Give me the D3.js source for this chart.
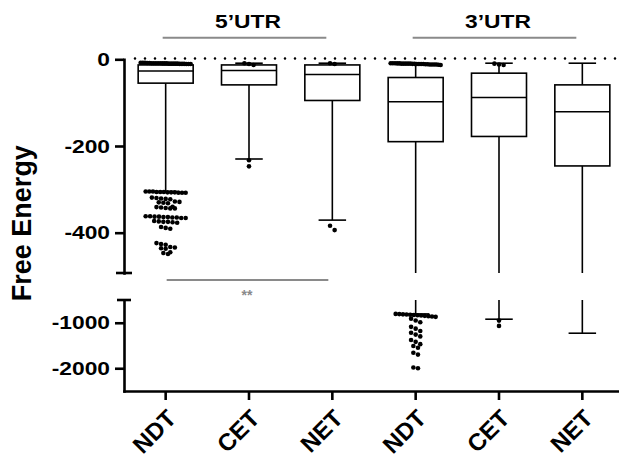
<!DOCTYPE html>
<html><head><meta charset="utf-8">
<script src="https://cdn.jsdelivr.net/npm/d3@7"></script>
<style>
body{margin:0;background:#fff}
svg{display:block}
text{font-family:"Liberation Sans",Arial,Helvetica,sans-serif}
</style>
</head><body>
<svg id="chart" width="619" height="457"></svg>
<script>
// ---------- data ----------
const groups = ["5’UTR", "3’UTR"];
const categories = ["NDT", "CET", "NET", "NDT", "CET", "NET"];
const groupOf = [0, 0, 0, 1, 1, 1];
const whiskerHigh = [-11, -9, -9, -11, -9, -9];
const q3 = [-13, -13, -13, -42, -32, -59];
const medians = [-27, -26, -35, -98, -88, -121];
const q1 = [-55, -59, -95, -190, -178, -246];
const whiskerLow = [-305, -230, -371, -806, -922, -1230];
const outliersNear0 = [
  [-8,-8,-8.5,-9,-9,-9,-9.5,-9.5,-10,-10,-10,-10.5,-10.5,-11,-11,-9,-8.5,-10,-9.5,-11,-10,-9,-8,-10.5],
  [-9,-11,-13],
  [-9,-11],
  [-9,-9,-9.5,-10,-10,-10.5,-11,-11,-11.5,-12,-12,-10,-9.5,-11,-12.5,-10,-11,-9,-12,-10.5,-11.5,-12,-13,-10],
  [-10,-12,-13],
  []
];
const outliersLow = [
  [-305,-305,-305,-306,-306,-306,-307,-307,-307,-308,-308,-308,
   -319,-320,-321,-322,-323,
   -328,-329,-330,-331,-332,
   -340,-341,-342,-343,-344,-344,
   -362,-362,-363,-363,-364,-364,-365,-365,-366,-366,
   -373,-374,-375,-375,-376,-377,
   -387,-389,-391,
   -424,-426,-428,
   -433,-434,-436,-437,
   -445,-447,-449],
  [-233,-247],
  [-384,-394],
  [-805,-810,-815,-820,-825,-830,-835,-840,-848,-855,-862,-870,
   -910,-950,-990,
   -1090,-1130,-1180,-1220,-1260,-1300,
   -1380,-1420,-1470,-1510,-1550,
   -1660,-1700,
   -1985,-2000],
  [-953,-1069],
  []
];
const topTicks = [0, -200, -400];
const bottomTicks = [-1000, -2000];
const topDomain = [0, -493];
const bottomDomain = [-500, -2500];
const yTitle = "Free Energy";
const significance = "**";

// ---------- scales ----------
const svg = d3.select("#chart");
const ids = categories.map((c, i) => groups[groupOf[i]] + " " + c);
const x = d3.scaleBand().domain(ids).range([124, 624]).paddingInner(0);
const yTop = d3.scaleLinear().domain(topDomain).range([59.3, 273]);
const yBot = d3.scaleLinear().domain(bottomDomain).range([300, 391]);
const y = v => (v >= topDomain[1] ? yTop(v) : yBot(v));
const bw = x.bandwidth() * 0.66;
const capW = x.bandwidth() * 0.33;
const SX = 1.2; // horizontal stretch of horizontal text

// ---------- reference dotted line at 0 ----------
svg.append("line")
  .attr("x1", 135).attr("x2", 619)
  .attr("y1", yTop(0) - 0.8).attr("y2", yTop(0) - 0.8)
  .attr("stroke", "#000").attr("stroke-width", 2.6)
  .attr("stroke-linecap", "round").attr("stroke-dasharray", "0 10");

// ---------- boxes ----------
const data = ids.map((id, i) => ({id, i}));
const gBox = svg.append("g").attr("stroke", "#000").attr("stroke-width", 1.6).attr("fill", "none");

data.forEach(d => {
  const cx = x(d.id) + x.bandwidth() / 2;
  const g = gBox.append("g");
  g.append("line").attr("x1", cx).attr("x2", cx).attr("y1", y(q3[d.i])).attr("y2", y(whiskerHigh[d.i]));
  g.append("line").attr("x1", cx - capW / 2).attr("x2", cx + capW / 2).attr("y1", y(whiskerHigh[d.i])).attr("y2", y(whiskerHigh[d.i]));
  const lo = whiskerLow[d.i];
  if (lo < topDomain[1]) {
    g.append("line").attr("x1", cx).attr("x2", cx).attr("y1", y(q1[d.i])).attr("y2", yTop(topDomain[1]));
    g.append("line").attr("x1", cx).attr("x2", cx).attr("y1", yBot(bottomDomain[0])).attr("y2", yBot(lo));
  } else {
    g.append("line").attr("x1", cx).attr("x2", cx).attr("y1", y(q1[d.i])).attr("y2", y(lo));
  }
  g.append("line").attr("x1", cx - capW / 2).attr("x2", cx + capW / 2).attr("y1", y(lo)).attr("y2", y(lo));
  g.append("rect").attr("x", cx - bw / 2).attr("width", bw)
    .attr("y", y(q3[d.i])).attr("height", y(q1[d.i]) - y(q3[d.i]))
    .attr("fill", "#fff");
  g.append("line").attr("x1", cx - bw / 2).attr("x2", cx + bw / 2).attr("y1", y(medians[d.i])).attr("y2", y(medians[d.i]));
});

// ---------- outlier dots (row-wise scatter layout) ----------
const R = 2.3, D = 2 * R;
function layout(vals, cx, maxW) {
  const pts = vals.map(v => ({v, py: y(v)})).sort((a, b) => a.py - b.py);
  const out = [];
  let row = [];
  const flush = () => {
    const n = row.length;
    const sp = n > 1 ? Math.min(D, maxW / (n - 1)) : 0;
    row.forEach((p, k) => out.push({px: cx + (k - (n - 1) / 2) * sp, py: p.py}));
    row = [];
  };
  pts.forEach(p => {
    if (row.length && p.py - row[0].py > D) flush();
    row.push(p);
  });
  if (row.length) flush();
  return out;
}
const gDots = svg.append("g").attr("fill", "#000");
data.forEach(d => {
  const cx = x(d.id) + x.bandwidth() / 2;
  const pts = layout(outliersNear0[d.i], cx, bw - 5).concat(layout(outliersLow[d.i], cx, 40));
  gDots.selectAll(null).data(pts).enter().append("circle")
    .attr("cx", p => p.px).attr("cy", p => p.py).attr("r", R);
});

// ---------- axes ----------
function styleAxis(g) {
  g.select(".domain").attr("stroke-width", 2.6).attr("stroke-linecap", "square");
  g.selectAll(".tick line").attr("stroke-width", 2.6);
  g.selectAll(".tick text")
    .attr("font-size", 19).attr("font-weight", "bold").attr("fill", "#000")
    .attr("x", -14 / SX).attr("transform", `scale(${SX},1)`);
}
svg.append("g").attr("transform", "translate(124,0)")
  .call(d3.axisLeft(yTop).tickValues(topTicks).tickFormat(d => String(d)).tickSize(9).tickSizeOuter(0))
  .call(styleAxis);
svg.append("g").attr("transform", "translate(124,0)")
  .call(d3.axisLeft(yBot).tickValues(bottomTicks).tickFormat(d => String(d)).tickSize(9).tickSizeOuter(0))
  .call(styleAxis);
svg.append("line").attr("x1", 116).attr("x2", 132).attr("y1", yTop(topDomain[1])).attr("y2", yTop(topDomain[1]))
  .attr("stroke", "#000").attr("stroke-width", 2.6);
svg.append("line").attr("x1", 117).attr("x2", 131).attr("y1", yBot(bottomDomain[0])).attr("y2", yBot(bottomDomain[0]))
  .attr("stroke", "#000").attr("stroke-width", 2.6);

const gx = svg.append("g").attr("transform", `translate(0,${yBot.range()[1]})`)
  .call(d3.axisBottom(x).tickSize(9).tickSizeOuter(0).tickFormat((d, i) => categories[i]));
gx.select(".domain").attr("stroke-width", 2.6).attr("stroke-linecap", "square");
gx.selectAll(".tick line").attr("stroke-width", 2.6);
gx.selectAll(".tick text")
  .attr("y", null).attr("dy", null)
  .attr("text-anchor", "end")
  .attr("font-size", 24).attr("font-weight", "bold").attr("fill", "#000")
  .attr("transform", "translate(12,29) rotate(-45)");

// ---------- y title ----------
svg.append("text")
  .attr("transform", `translate(31,${(yTop(0) + yBot.range()[1]) / 2 - 2}) rotate(-90)`)
  .attr("text-anchor", "middle").attr("font-size", 27).attr("font-weight", "bold")
  .text(yTitle);

// ---------- group headers ----------
[0, 1].forEach(gi => {
  const mem = ids.filter((id, i) => groupOf[i] === gi);
  const x0 = x(mem[0]) + x.bandwidth() / 2, x1 = x(mem[mem.length - 1]) + x.bandwidth() / 2;
  svg.append("line").attr("x1", x0 - 3).attr("x2", x1 - 6).attr("y1", 37.7).attr("y2", 37.7)
    .attr("stroke", "#8a8a8a").attr("stroke-width", 2);
  svg.append("text").attr("transform", `translate(${(x0 + x1) / 2 - 1},28) scale(${SX},1)`)
    .attr("text-anchor", "middle").attr("font-size", 19).attr("font-weight", "bold")
    .text(groups[gi]);
});

// ---------- significance bracket ----------
{
  const a = x(ids[0]) + x.bandwidth() / 2, b = x(ids[2]) + x.bandwidth() / 2;
  svg.append("line").attr("x1", a + 1).attr("x2", b - 4).attr("y1", 280).attr("y2", 280)
    .attr("stroke", "#8a8a8a").attr("stroke-width", 2);
  svg.append("text").attr("x", (a + b) / 2 - 2).attr("y", 299.5)
    .attr("text-anchor", "middle").attr("font-size", 14).attr("font-weight", "bold")
    .attr("fill", "#8a8a8a").text(significance);
}
</script>
</body></html>
